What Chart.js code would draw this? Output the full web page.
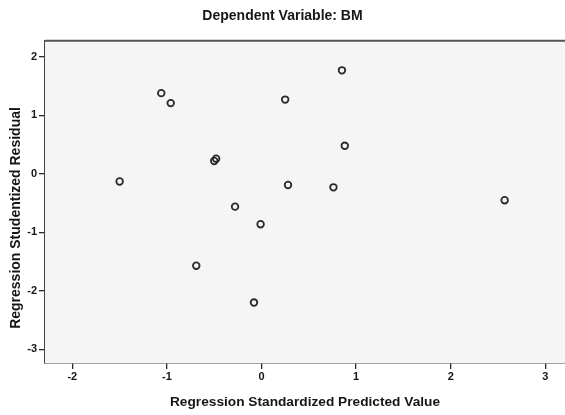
<!DOCTYPE html>
<html>
<head>
<meta charset="utf-8">
<title>Dependent Variable: BM</title>
<script src="https://cdn.jsdelivr.net/npm/chart.js@4.4.1/dist/chart.umd.min.js"></script>
<style>
    html, body { margin: 0; padding: 0; background: #ffffff; }
    #wrap { width: 565px; height: 415px; }
</style>
</head>
<body>
<div id="wrap"><canvas id="chartResid" width="565" height="415"></canvas></div>
<script>
const predicted = [-1.50, -1.06, -0.96, -0.50, -0.48, -0.28, -0.69, -0.01, -0.08, 0.25, 0.28, 0.76, 0.85, 0.88, 2.57];
const residual  = [-0.13,  1.38,  1.21,  0.22,  0.26, -0.56, -1.57, -0.86, -2.20, 1.27, -0.19, -0.23, 1.77, 0.48, -0.45];
const xTicks    = [-2, -1, 0, 1, 2, 3];
const yTicks    = [-3, -2, -1, 0, 1, 2];

const chartTitle = 'Dependent Variable: BM';
const xTitle     = 'Regression Standardized Predicted Value';
const yTitle     = 'Regression Studentized Residual';

// ── Shared defaults ──────────────────────────────────────────────────────────
Chart.defaults.font.family = "'Liberation Sans', Arial, sans-serif";
Chart.defaults.color       = '#161616';

const ink = '#2a2a2a';

// Plot background + top frame line, and the y title (sits lower than centre in the scan)
const frame = {
    id: 'frame',
    beforeDatasetsDraw(chart) {
        const { ctx, chartArea: a } = chart;
        ctx.save();
        ctx.fillStyle = '#f5f5f5';
        ctx.fillRect(a.left, a.top, a.right - a.left, a.bottom - a.top);
        ctx.strokeStyle = '#555555';
        ctx.lineWidth = 2;
        ctx.beginPath();
        ctx.moveTo(a.left, a.top);
        ctx.lineTo(a.right, a.top);
        ctx.stroke();
        ctx.restore();
    },
    afterDraw(chart) {
        const { ctx } = chart;
        ctx.save();
        ctx.translate(16, 218);
        ctx.rotate(-Math.PI / 2);
        ctx.textAlign = 'center';
        ctx.textBaseline = 'middle';
        ctx.font = "bold 14px 'Liberation Sans', Arial, sans-serif";
        ctx.fillStyle = '#161616';
        ctx.fillText(yTitle, 0, 0);
        ctx.restore();
    },
};

new Chart(document.getElementById('chartResid'), {
    type: 'scatter',
    data: {
        datasets: [{
            data: predicted.map((x, i) => ({ x, y: residual[i] })),
            backgroundColor: 'rgba(0,0,0,0)',
            borderColor: ink,
            borderWidth: 1.8,
            pointRadius: 3.3,
            pointHoverRadius: 3.3,
        }],
    },
    options: {
        responsive: false,
        animation: false,
        layout: { padding: 0, autoPadding: false },
        plugins: {
            legend:  { display: false },
            tooltip: { enabled: false },
            title: {
                display: true,
                text: chartTitle,
                font: { size: 14, weight: 'bold' },
                color: '#161616',
                padding: { top: 8, bottom: 16 },
            },
        },
        scales: {
            x: {
                type: 'linear',
                min: -2.289,
                max: 3.208,
                afterBuildTicks: (scale) => { scale.ticks = xTicks.map((v) => ({ value: v })); },
                afterFit: (scale) => {
                    scale.height = 52;
                    scale.paddingLeft = 0;
                    scale.paddingRight = 0;
                },
                grid: {
                    drawOnChartArea: false,
                    drawTicks: true,
                    tickLength: 6,
                    color: ink,
                    lineWidth: 1.3,
                },
                border: { display: true, color: '#444444', width: 1.6 },
                ticks: {
                    font: { size: 11, weight: 'bold' },
                    padding: 1,
                    maxRotation: 0,
                },
                title: {
                    display: true,
                    text: xTitle,
                    font: { size: 13.7, weight: 'bold' },
                    color: '#161616',
                    padding: { top: 0, bottom: 5 },
                },
            },
            y: {
                type: 'linear',
                min: -3.233,
                max: 2.275,
                afterBuildTicks: (scale) => { scale.ticks = yTicks.map((v) => ({ value: v })); },
                afterFit: (scale) => {
                    scale.width = 45;
                    scale.paddingTop = 0;
                    scale.paddingBottom = 0;
                },
                grid: {
                    drawOnChartArea: false,
                    drawTicks: true,
                    tickLength: 6,
                    color: ink,
                    lineWidth: 1.3,
                },
                border: { display: true, color: '#444444', width: 1.6 },
                ticks: {
                    font: { size: 11, weight: 'bold' },
                    padding: 2,
                },
                title: { display: false },
            },
        },
    },
    plugins: [frame],
});
</script>
</body>
</html>
